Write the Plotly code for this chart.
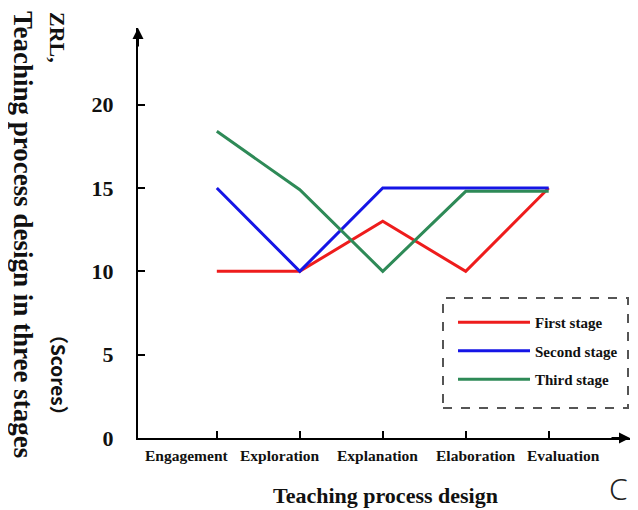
import plotly.graph_objects as go

categories = ["Engagement", "Exploration", "Explanation", "Elaboration", "Evaluation"]
first_stage = [10, 10, 13, 10, 15]
second_stage = [15, 10, 15, 15, 15]
third_stage = [18.4, 14.9, 10, 14.8, 14.8]
y_ticks = [0, 5, 10, 15, 20]

xpos = list(range(1, len(categories) + 1))
SERIF = "Liberation Serif, Times New Roman, serif"
INK = "#111"

fig = go.Figure()
series = [("First stage", first_stage, "#ee1c1c"),
          ("Second stage", second_stage, "#1515e6"),
          ("Third stage", third_stage, "#2e8a57")]
for i, (name, vals, col) in enumerate(series):
    fig.add_trace(go.Scatter(x=xpos, y=vals, mode="lines", name=name,
                             legendgroup=f"g{i}",
                             line=dict(color=col, width=3)))

PW, PH = 492, 410  # plot area size in px

def px(xpage):
    return (xpage - 138) / PW

def py(ypage):
    return (438 - ypage) / PH

fig.update_layout(
    width=630, height=502,
    margin=dict(l=130, r=8, t=20, b=72),
    paper_bgcolor="white", plot_bgcolor="white",
    font=dict(family=SERIF, color=INK),
    showlegend=True,
    legend=dict(x=px(453), y=py(306), xanchor="left", yanchor="top",
                bgcolor="rgba(0,0,0,0)", borderwidth=0,
                font=dict(family=SERIF, size=15, color=INK, weight="bold"),
                tracegroupgap=6, itemwidth=72, traceorder="grouped"),
    xaxis=dict(range=[0.05, 5.98], showgrid=False, zeroline=False,
               showline=True, linecolor="black", linewidth=2,
               ticks="inside", ticklen=7, tickwidth=2, tickcolor="black",
               tickvals=xpos, showticklabels=False),
    yaxis=dict(range=[0, 24.6], showgrid=False, zeroline=False,
               showline=True, linecolor="black", linewidth=2,
               ticks="inside", ticklen=7, tickwidth=2, tickcolor="black",
               tickvals=y_ticks, ticklabelstandoff=18,
               tickfont=dict(family=SERIF, size=22, color=INK, weight="bold")),
)

# axis arrows
fig.add_annotation(xref="paper", yref="paper", x=0, y=1.0, ax=0, ay=20,
                   showarrow=True, arrowhead=2, arrowsize=1.1, arrowwidth=2,
                   arrowcolor="black", text="")
fig.add_annotation(xref="paper", yref="paper", x=1.0, y=0, ax=-20, ay=0,
                   showarrow=True, arrowhead=2, arrowsize=1.1, arrowwidth=2,
                   arrowcolor="black", text="")

# category labels
label_shift = [-30, -20, -5, 10, 15]
for xp, cat, sh in zip(xpos, categories, label_shift):
    fig.add_annotation(x=xp, xref="x", y=0, yref="paper", yshift=-17,
                       xshift=sh, xanchor="center", yanchor="middle",
                       showarrow=False, text=cat,
                       font=dict(family=SERIF, size=15.5, color=INK, weight="bold"))

# x title and panel letter
fig.add_annotation(x=px(385), xref="paper", y=0, yref="paper", yshift=-57,
                   xanchor="center", yanchor="middle", showarrow=False,
                   text="Teaching process design",
                   font=dict(family=SERIF, size=22, color=INK, weight="bold"))
fig.add_annotation(x=px(618), xref="paper", y=py(488), yref="paper",
                   xanchor="center", yanchor="middle", showarrow=False, text="C",
                   borderpad=0,
                   font=dict(family="Noto Sans, DejaVu Sans, sans-serif", size=30,
                             color="#222", weight=300))

# y title pieces
fig.add_annotation(x=px(23), xref="paper", y=py(234), yref="paper",
                   xanchor="center", yanchor="middle",
                   showarrow=False, textangle=90,
                   text="Teaching process design in three stages",
                   font=dict(family=SERIF, size=27, color=INK, weight="bold"))
fig.add_annotation(x=px(58), xref="paper", y=py(37), yref="paper",
                   xanchor="center", yanchor="middle",
                   showarrow=False, textangle=90, text="ZRL,",
                   font=dict(family=SERIF, size=22, color=INK, weight="bold"))
fig.add_annotation(x=px(60), xref="paper", y=py(375), yref="paper",
                   xanchor="center", yanchor="middle",
                   showarrow=False, textangle=90, text="（Scores）",
                   font=dict(family="Noto Sans CJK SC, Noto Sans, sans-serif",
                             size=19, color=INK, weight="bold"))

# dashed legend box
fig.add_shape(type="rect", xref="paper", yref="paper",
              x0=px(443), x1=px(628), y0=py(408), y1=py(298),
              line=dict(color="#555", width=2, dash="dash"))

fig.write_html("out.html")
